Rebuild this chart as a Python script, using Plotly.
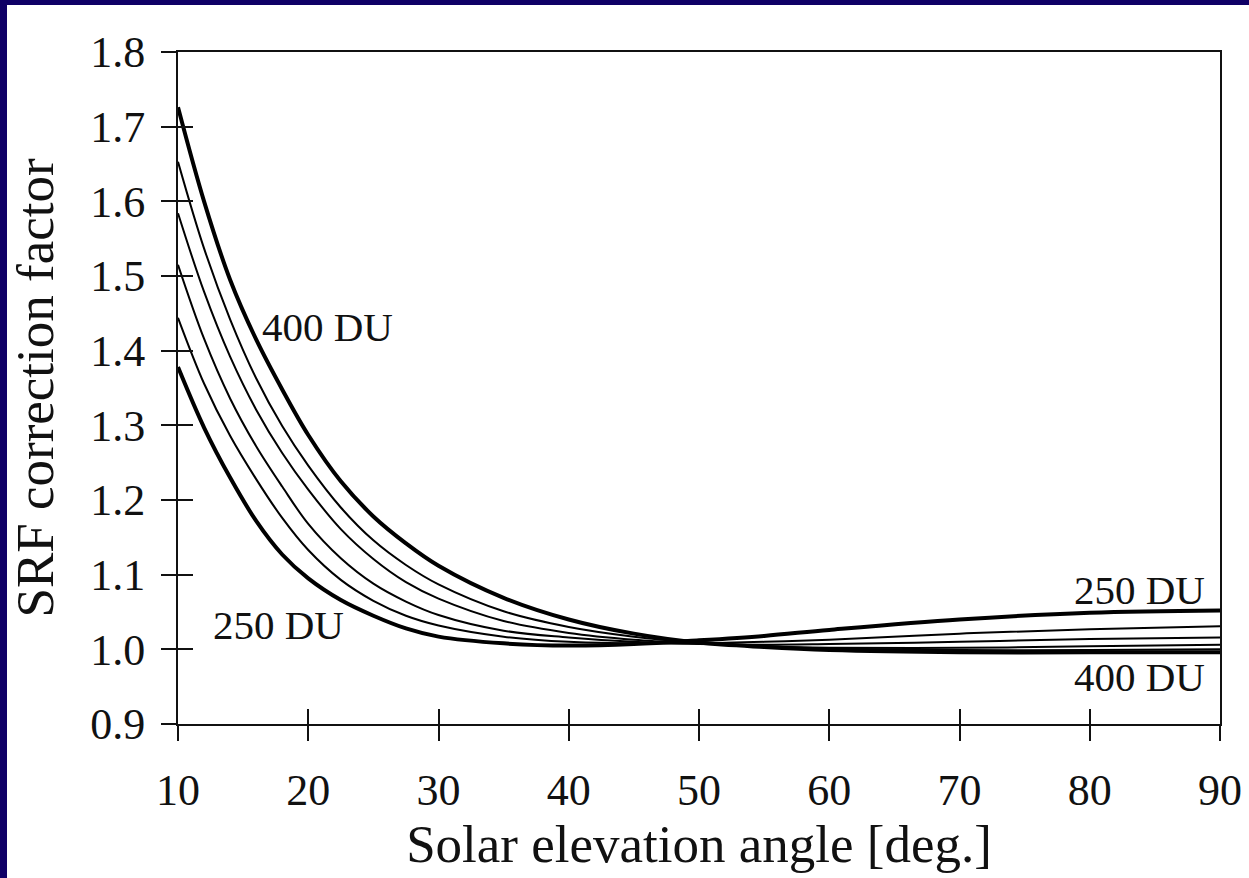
import plotly.graph_objects as go

# Solar elevation angle grid (deg.)
elev = [10, 12, 14, 16, 18, 20, 22.5, 25, 27.5, 30, 35, 40, 45, 50, 55, 60, 70, 80, 90]

# SRF correction factor for total ozone 250 ... 400 DU
srf_250 = [1.378, 1.297, 1.230, 1.172, 1.127, 1.095, 1.066, 1.045, 1.028, 1.017, 1.008, 1.005, 1.007, 1.012, 1.018, 1.026, 1.040, 1.049, 1.052]
srf_280 = [1.444, 1.356, 1.286, 1.228, 1.176, 1.133, 1.093, 1.065, 1.045, 1.032, 1.017, 1.010, 1.008, 1.008, 1.010, 1.013, 1.021, 1.027, 1.031]
srf_310 = [1.515, 1.416, 1.336, 1.272, 1.218, 1.168, 1.122, 1.088, 1.064, 1.046, 1.025, 1.016, 1.010, 1.007, 1.006, 1.007, 1.010, 1.014, 1.016]
srf_340 = [1.584, 1.479, 1.392, 1.321, 1.263, 1.214, 1.161, 1.121, 1.090, 1.068, 1.038, 1.022, 1.013, 1.008, 1.004, 1.002, 1.002, 1.004, 1.006]
srf_370 = [1.653, 1.537, 1.442, 1.363, 1.299, 1.246, 1.190, 1.146, 1.113, 1.087, 1.051, 1.030, 1.017, 1.009, 1.004, 1.001, 0.999, 0.999, 1.000]
srf_400 = [1.726, 1.600, 1.495, 1.415, 1.348, 1.287, 1.225, 1.178, 1.142, 1.112, 1.069, 1.040, 1.021, 1.009, 1.003, 0.999, 0.996, 0.996, 0.996]

series = [("250 DU", srf_250, 4), ("280 DU", srf_280, 2),
          ("310 DU", srf_310, 2), ("340 DU", srf_340, 2),
          ("370 DU", srf_370, 2), ("400 DU", srf_400, 4)]

x_ticks = [10, 20, 30, 40, 50, 60, 70, 80, 90]
y_ticks = [0.9, 1.0, 1.1, 1.2, 1.3, 1.4, 1.5, 1.6, 1.7, 1.8]

FONT = "Liberation Serif, Times New Roman, serif"
INK = "#111111"
NAVY = "#0f0066"

fig = go.Figure()
for name, vals, w in series:
    fig.add_trace(go.Scatter(x=elev, y=vals, mode="lines", name=name,
                             line=dict(color="black", width=w, shape="spline", smoothing=1.0),
                             showlegend=False, hoverinfo="skip"))

# invisible trace on the overlay axes (inside half of the crossing ticks)
fig.add_trace(go.Scatter(x=[10], y=[0.9], xaxis="x2", yaxis="y2", mode="markers",
                         marker=dict(opacity=0), showlegend=False, hoverinfo="skip"))

common = dict(showgrid=False, zeroline=False, linecolor=INK, linewidth=2,
              tickcolor=INK, tickwidth=2, ticklen=15, automargin=False)

fig.update_layout(
    width=1249, height=878,
    margin=dict(l=178, r=29, t=52, b=154, autoexpand=False),
    paper_bgcolor="white", plot_bgcolor="white",
    font=dict(family=FONT, color=INK, size=44),
    xaxis=dict(range=[10, 90], tickvals=x_ticks, ticks="outside", showline=True, mirror=True,
               tickfont=dict(size=44), ticklabelstandoff=11,
               title=dict(text="Solar elevation angle [deg.]", font=dict(size=53), standoff=0),
               **common),
    yaxis=dict(range=[0.9, 1.8], tickvals=y_ticks, tickformat=".1f", ticks="outside",
               showline=True, mirror=True, tickfont=dict(size=44), ticklabelstandoff=7,
               title=dict(text="SRF correction factor", font=dict(size=53), standoff=20),
               **common),
    xaxis2=dict(range=[10, 90], tickvals=x_ticks, ticks="inside", overlaying="x", anchor="y2",
                side="bottom", showticklabels=False, showline=False, showgrid=False,
                zeroline=False, tickcolor=INK, tickwidth=2, ticklen=15, automargin=False),
    yaxis2=dict(range=[0.9, 1.8], tickvals=y_ticks, ticks="inside", overlaying="y", anchor="x2",
                side="left", showticklabels=False, showline=False, showgrid=False,
                zeroline=False, tickcolor=INK, tickwidth=2, ticklen=15, automargin=False),
)

# dark-blue frame of the slide (top and left bands)
fig.add_shape(type="rect", xref="paper", yref="paper", x0=-0.2, x1=1.1,
              y0=1.0699, y1=1.09, fillcolor=NAVY, line_width=0, layer="below")
fig.add_shape(type="rect", xref="paper", yref="paper", x0=-0.2, x1=-0.1641,
              y0=-0.25, y1=1.09, fillcolor=NAVY, line_width=0, layer="below")

ann = dict(showarrow=False, font=dict(family=FONT, size=41, color=INK))
fig.add_annotation(x=16.3, y=1.432, text="400 DU", xanchor="left", yanchor="middle", **ann)
fig.add_annotation(x=12.5, y=1.033, text="250 DU", xanchor="left", yanchor="middle", **ann)
fig.add_annotation(x=89.0, y=1.079, text="250 DU", xanchor="right", yanchor="middle", **ann)
fig.add_annotation(x=89.0, y=0.963, text="400 DU", xanchor="right", yanchor="middle", **ann)

fig.write_html("out.html")
